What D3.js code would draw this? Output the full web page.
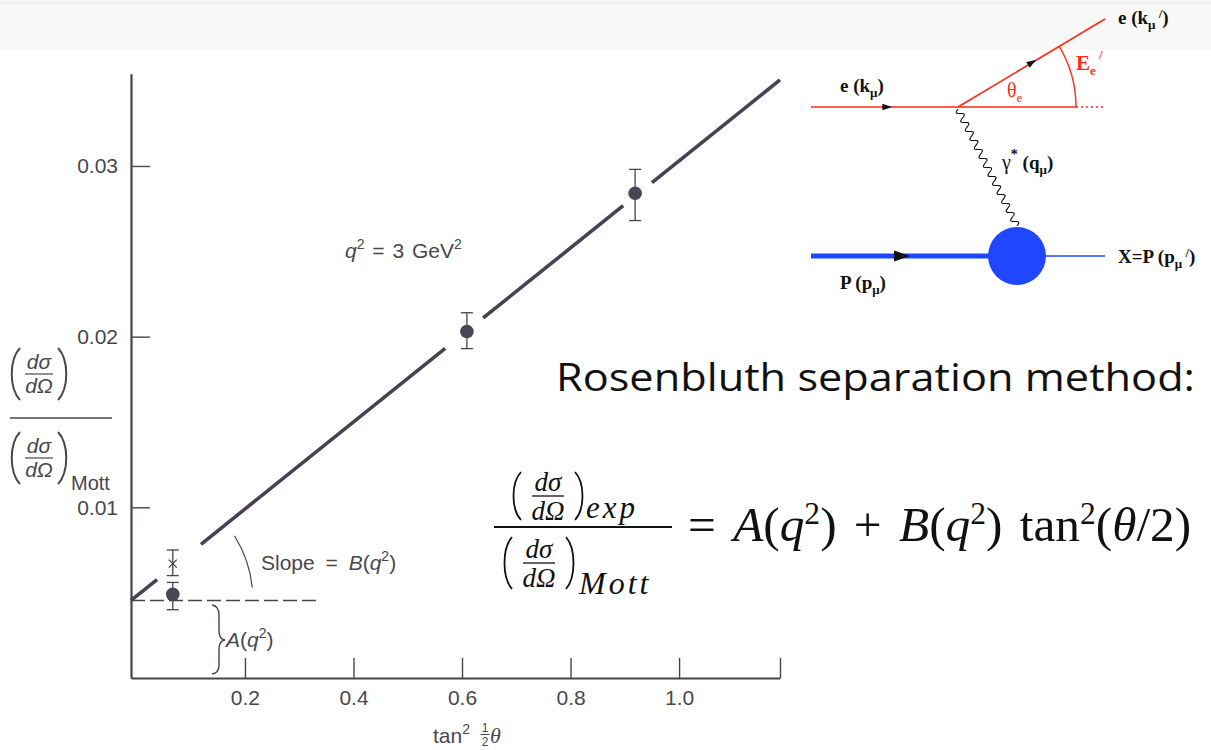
<!DOCTYPE html>
<html>
<head>
<meta charset="utf-8">
<script src="https://cdn.jsdelivr.net/npm/d3@7"></script>
<style>
  html, body { margin: 0; padding: 0; background: #ffffff; }
  svg { display: block; }
</style>
</head>
<body>
<svg id="chart" width="1211" height="750"></svg>
<script>
// ---- data -------------------------------------------------------------
// Rosenbluth plot at q^2 = 3 GeV^2: ratio to Mott cross section vs tan^2(theta/2)
const xTickValues = [0.2, 0.4, 0.6, 0.8, 1.0];
const yTickValues = [0.01, 0.02, 0.03];
const xDomain = [-0.01, 1.186];
const yDomain = [0, 0.0354];

// measured points (filled circles) with error bars
const pointX    = [0.067, 0.609, 0.919];
const pointY    = [0.0049, 0.0203, 0.0284];
const pointLow  = [0.0040, 0.0193, 0.0268];
const pointHigh = [0.0056, 0.0214, 0.0298];

// extra point drawn with a cross
const crossX    = [0.067];
const crossY    = [0.0067];
const crossLow  = [0.0060];
const crossHigh = [0.0075];

// straight-line fit A + B*tan^2(theta/2)
const fitA = 0.0048;
const fitB = 0.0255;
// the fit line is broken where it passes the data points
const fitSegmentStart = [-0.01, 0.119, 0.639, 0.950];
const fitSegmentEnd   = [0.038, 0.569, 0.897, 1.186];

const dashedEndX = 0.331;   // extent of the intercept guide line

// ---- layout -----------------------------------------------------------
const svg = d3.select("#chart");
const ink = "#4a4150";
const textInk = "#48474c";
const sans = "'Liberation Sans', Arial, Helvetica, sans-serif";
const serif = "'Liberation Serif', 'Times New Roman', serif";

const x = d3.scaleLinear().domain(xDomain).range([131, 780]);
const y = d3.scaleLinear().domain(yDomain).range([678, 73.8]);

// faint scanned-page band along the top
svg.append("rect").attr("x", 0).attr("y", 0).attr("width", 1211).attr("height", 50)
  .attr("fill", "#f8f8f8");
svg.append("line").attr("x1", 0).attr("x2", 1211).attr("y1", 3).attr("y2", 3)
  .attr("stroke", "#eeeeee").attr("stroke-width", 3);

const plot = svg.append("g");

// axes
const yAxis = d3.axisLeft(y).tickValues(yTickValues)
  .tickFormat(d3.format(".2f")).tickSizeInner(-19).tickSizeOuter(0).tickPadding(13);
const xAxis = d3.axisBottom(x).tickValues(xTickValues.concat([xDomain[1]]))
  .tickFormat(d => d === xDomain[1] ? "" : d3.format(".1f")(d))
  .tickSizeInner(-20).tickSizeOuter(0).tickPadding(12);

const gy = plot.append("g").attr("transform", `translate(${x(xDomain[0])},0)`).call(yAxis);
const gx = plot.append("g").attr("transform", `translate(0,${y(0)})`).call(xAxis);
[gx, gy].forEach(g => {
  g.select(".domain").attr("stroke", ink).attr("stroke-width", 2.2);
  g.selectAll(".tick line").attr("stroke", ink).attr("stroke-width", 1.4);
  g.selectAll(".tick text").attr("fill", textInk).attr("font-family", sans).attr("font-size", 21);
});

// fit line segments
const fitY = v => fitA + fitB * v;
plot.selectAll("line.fit")
  .data(d3.range(fitSegmentStart.length))
  .join("line").attr("class", "fit")
  .attr("x1", i => x(fitSegmentStart[i])).attr("y1", i => y(fitY(fitSegmentStart[i])))
  .attr("x2", i => x(fitSegmentEnd[i])).attr("y2", i => y(fitY(fitSegmentEnd[i])))
  .attr("stroke", ink).attr("stroke-width", 3.6);

// dashed intercept guide at the value where the fit meets the vertical axis
const axisValue = fitY(xDomain[0]);
plot.append("line")
  .attr("x1", x(xDomain[0])).attr("x2", x(dashedEndX))
  .attr("y1", y(axisValue)).attr("y2", y(axisValue))
  .attr("stroke", ink).attr("stroke-width", 1.6).attr("stroke-dasharray", "14,5");

// error bars
function errorBars(xs, lows, highs) {
  const idx = d3.range(xs.length);
  plot.selectAll(null).data(idx).join("line")
    .attr("x1", i => x(xs[i])).attr("x2", i => x(xs[i]))
    .attr("y1", i => y(lows[i])).attr("y2", i => y(highs[i]))
    .attr("stroke", ink).attr("stroke-width", 1.3);
  [lows, highs].forEach(arr => {
    plot.selectAll(null).data(idx).join("line")
      .attr("x1", i => x(xs[i]) - 6).attr("x2", i => x(xs[i]) + 6)
      .attr("y1", i => y(arr[i])).attr("y2", i => y(arr[i]))
      .attr("stroke", ink).attr("stroke-width", 1.3);
  });
}
errorBars(pointX, pointLow, pointHigh);
errorBars(crossX, crossLow, crossHigh);

plot.selectAll("circle.pt").data(d3.range(pointX.length)).join("circle")
  .attr("class", "pt")
  .attr("cx", i => x(pointX[i])).attr("cy", i => y(pointY[i]))
  .attr("r", 6.8).attr("fill", "#4a4552");

plot.selectAll("path.cross").data(d3.range(crossX.length)).join("path")
  .attr("class", "cross")
  .attr("d", i => {
    const cx = x(crossX[i]), cy = y(crossY[i]), s = 4;
    return `M${cx - s},${cy - s}L${cx + s},${cy + s}M${cx - s},${cy + s}L${cx + s},${cy - s}`;
  })
  .attr("stroke", ink).attr("stroke-width", 1.3).attr("fill", "none");

// slope arc centred where the fit meets the axis
const cx0 = x(xDomain[0]), cy0 = y(axisValue), rArc = 122;
const a1 = 6 * Math.PI / 180, a2 = 32 * Math.PI / 180;
plot.append("path")
  .attr("d", `M${cx0 + rArc * Math.cos(a2)},${cy0 - rArc * Math.sin(a2)} A${rArc},${rArc} 0 0 1 ${cx0 + rArc * Math.cos(a1)},${cy0 - rArc * Math.sin(a1)}`)
  .attr("fill", "none").attr("stroke", ink).attr("stroke-width", 1.2);

// annotation text helpers
function richText(parent, xPos, yPos, parts, opts) {
  const t = parent.append("text").attr("x", xPos).attr("y", yPos)
    .attr("font-family", opts.family).attr("font-size", opts.size)
    .attr("fill", opts.fill);
  if (opts.weight) t.attr("font-weight", opts.weight);
  parts.forEach(p => {
    const s = t.append("tspan").text(p.t);
    if (p.italic) s.attr("font-style", "italic");
    if (p.family) s.attr("font-family", p.family);
    if (p.size) s.attr("font-size", p.size);
    if (p.dy) s.attr("dy", p.dy);
    if (p.dx) s.attr("dx", p.dx);
    if (p.fill) s.attr("fill", p.fill);
    if (p.weight) s.attr("font-weight", p.weight);
  });
  return t;
}

const annOpts = { family: sans, size: 21, fill: textInk };
richText(plot, 261, 570, [
  { t: "Slope = " }, { t: "B", italic: true }, { t: "(" }, { t: "q", italic: true },
  { t: "2", size: 14, dy: -9 }, { t: ")", dy: 9 }
], annOpts).attr("word-spacing", 5);
richText(plot, 226, 647, [
  { t: "A", italic: true }, { t: "(" }, { t: "q", italic: true },
  { t: "2", size: 14, dy: -9 }, { t: ")", dy: 9 }
], annOpts);
richText(plot, 345, 258, [
  { t: "q", italic: true }, { t: "2", size: 14, dy: -9 }, { t: " = 3 GeV", dy: 9 },
  { t: "2", size: 14, dy: -9 }
], annOpts).attr("word-spacing", 2);

// brace marking the intercept
plot.append("path")
  .attr("d", "M212,605 Q219,606 219,615 L219,631 Q219,639 225,640 Q219,641 219,649 L219,665 Q219,673 212,674")
  .attr("fill", "none").attr("stroke", ink).attr("stroke-width", 1.4);

// x-axis title: tan^2 (1/2) theta
richText(plot, 433, 743, [{ t: "tan" }, { t: "2", size: 14, dy: -9 }], annOpts);
plot.append("text").attr("x", 485).attr("y", 732).attr("text-anchor", "middle")
  .attr("font-family", sans).attr("font-size", 12).attr("fill", textInk).text("1");
plot.append("line").attr("x1", 480.5).attr("x2", 489.5).attr("y1", 734.5).attr("y2", 734.5)
  .attr("stroke", textInk).attr("stroke-width", 1.1);
plot.append("text").attr("x", 485).attr("y", 746).attr("text-anchor", "middle")
  .attr("font-family", sans).attr("font-size", 12).attr("fill", textInk).text("2");
plot.append("text").attr("x", 490).attr("y", 743).attr("font-family", serif)
  .attr("font-style", "italic").attr("font-size", 22).attr("fill", textInk).text("θ");

// parenthesised dsigma/dOmega block
function parenPath(xp, top, bottom, dir, bulge) {
  const mid = (top + bottom) / 2, b = bulge * dir;
  return `M${xp},${top} C${xp - b},${top + (mid - top) * 0.45} ${xp - b},${bottom - (bottom - mid) * 0.45} ${xp},${bottom}`;
}
function dsdo(parent, left, right, top, bottom, opts) {
  parent.append("path").attr("d", parenPath(left, top, bottom, 1, opts.bulge))
    .attr("fill", "none").attr("stroke", opts.fill).attr("stroke-width", opts.pw);
  parent.append("path").attr("d", parenPath(right, top, bottom, -1, opts.bulge))
    .attr("fill", "none").attr("stroke", opts.fill).attr("stroke-width", opts.pw);
  const cx = (left + right) / 2, mid = (top + bottom) / 2;
  parent.append("text").attr("x", cx).attr("y", mid - opts.gap)
    .attr("text-anchor", "middle").attr("font-family", opts.family)
    .attr("font-style", "italic").attr("font-size", opts.size).attr("fill", opts.fill).text("dσ");
  parent.append("line").attr("x1", cx - opts.bar).attr("x2", cx + opts.bar)
    .attr("y1", mid).attr("y2", mid).attr("stroke", opts.fill).attr("stroke-width", opts.bw);
  parent.append("text").attr("x", cx).attr("y", mid + opts.size * 0.9)
    .attr("text-anchor", "middle").attr("font-family", opts.family)
    .attr("font-style", "italic").attr("font-size", opts.size).attr("fill", opts.fill).text("dΩ");
}

// y-axis title
const yLab = { family: sans, size: 21, fill: textInk, pw: 2, gap: 5, bar: 14, bw: 1.2, bulge: 11 };
dsdo(plot, 20, 58, 348, 400, yLab);
plot.append("line").attr("x1", 10).attr("x2", 112).attr("y1", 418).attr("y2", 418)
  .attr("stroke", textInk).attr("stroke-width", 1.5);
dsdo(plot, 20, 58, 432, 484, yLab);
plot.append("text").attr("x", 71).attr("y", 490).attr("font-family", sans)
  .attr("font-size", 20).attr("fill", textInk).text("Mott");

// ---- heading -----------------------------------------------------------
svg.append("text").attr("x", 556).attr("y", 391)
  .attr("font-family", "'Comic Sans MS', 'Open Sans', sans-serif")
  .attr("font-size", 38).attr("fill", "#111")
  .attr("textLength", 639).attr("lengthAdjust", "spacingAndGlyphs")
  .text("Rosenbluth separation method:");

// ---- Rosenbluth formula ------------------------------------------------
const fx = svg.append("g");
const fOpts = { family: serif, size: 27, fill: "#111", pw: 1.8, gap: 5, bar: 16, bw: 1.3, bulge: 10 };
dsdo(fx, 521, 575, 472, 520, fOpts);
fx.append("text").attr("x", 586).attr("y", 518).attr("font-family", serif)
  .attr("font-style", "italic").attr("font-size", 31).attr("letter-spacing", 3)
  .attr("fill", "#111").text("exp");
fx.append("line").attr("x1", 494).attr("x2", 672).attr("y1", 527).attr("y2", 527)
  .attr("stroke", "#111").attr("stroke-width", 2);
dsdo(fx, 512, 566, 537, 589, fOpts);
fx.append("text").attr("x", 579).attr("y", 594).attr("font-family", serif)
  .attr("font-style", "italic").attr("font-size", 32).attr("letter-spacing", 3)
  .attr("fill", "#111").text("Mott");

const rhs = richText(fx, 688, 541, [
  { t: "= " }, { t: "A", italic: true }, { t: "(" }, { t: "q", italic: true },
  { t: "2", size: 27, dy: -17 }, { t: ") + ", dy: 17 }, { t: "B", italic: true },
  { t: "(" }, { t: "q", italic: true }, { t: "2", size: 27, dy: -17 },
  { t: ") tan", dy: 17 }, { t: "2", size: 27, dy: -17 }, { t: "(", dy: 17 },
  { t: "θ", italic: true }, { t: "/2)" }
], { family: serif, size: 42, fill: "#111" });
rhs.attr("word-spacing", 5);
// size the right-hand side so it runs to the right margin
const w = rhs.node().getComputedTextLength();
const fs = 42 * (1195 - 688) / w;
rhs.attr("font-size", fs);
rhs.selectAll("tspan").filter(function () { return d3.select(this).text() === "2"; })
  .attr("font-size", fs * 0.64);

// ---- scattering diagram -------------------------------------------------
const fd = svg.append("g");
const red = "#ff2a1a", blue = "#1f47ff";
const vtx = [958, 107], outEnd = [1105, 19];
fd.append("line").attr("x1", 811).attr("y1", vtx[1]).attr("x2", 1076).attr("y2", vtx[1])
  .attr("stroke", red).attr("stroke-width", 1.6);
fd.append("line").attr("x1", 1076).attr("y1", vtx[1]).attr("x2", 1105).attr("y2", vtx[1])
  .attr("stroke", red).attr("stroke-width", 1.3).attr("stroke-dasharray", "2,3");
fd.append("line").attr("x1", vtx[0]).attr("y1", vtx[1]).attr("x2", outEnd[0]).attr("y2", outEnd[1])
  .attr("stroke", red).attr("stroke-width", 1.6);

// angle arc
const ang = Math.atan2(vtx[1] - outEnd[1], outEnd[0] - vtx[0]), rr = 118;
fd.append("path")
  .attr("d", `M${vtx[0] + rr * Math.cos(ang)},${vtx[1] - rr * Math.sin(ang)} A${rr},${rr} 0 0 1 ${vtx[0] + rr},${vtx[1]}`)
  .attr("fill", "none").attr("stroke", red).attr("stroke-width", 1.4);

function arrowHead(g, px, py, angle, size, color) {
  g.append("path")
    .attr("d", `M${size},0 L${-size * 0.6},${-size * 0.55} L${-size * 0.6},${size * 0.55} Z`)
    .attr("transform", `translate(${px},${py}) rotate(${angle})`)
    .attr("fill", color);
}
arrowHead(fd, 886, vtx[1], 0, 6, "#111");
arrowHead(fd, 1031, 63, -ang * 180 / Math.PI, 6, "#111");

// photon propagator
const pA = [vtx[0], vtx[1] + 2], pB = [1017, 226];
const plen = Math.hypot(pB[0] - pA[0], pB[1] - pA[1]);
const ux = (pB[0] - pA[0]) / plen, uy = (pB[1] - pA[1]) / plen;
const wave = d3.range(0, 1.0001, 1 / 240).map(t => {
  const s = t * plen, a = 3.2 * Math.sin(t * Math.PI * 2 * 13);
  return [pA[0] + ux * s - uy * a, pA[1] + uy * s + ux * a];
});
fd.append("path").attr("d", d3.line()(wave)).attr("fill", "none")
  .attr("stroke", "#111").attr("stroke-width", 1.1);

// proton lines and blob
fd.append("line").attr("x1", 811).attr("x2", 995).attr("y1", 256).attr("y2", 256)
  .attr("stroke", blue).attr("stroke-width", 5);
fd.append("line").attr("x1", 1040).attr("x2", 1105).attr("y1", 256).attr("y2", 256)
  .attr("stroke", blue).attr("stroke-width", 1.6);
arrowHead(fd, 900, 256, 0, 10, "#111");
fd.append("circle").attr("cx", 1017).attr("cy", 256).attr("r", 29).attr("fill", blue);

const lab = { family: serif, size: 19, fill: "#111", weight: "bold" };
richText(fd, 840, 92, [{ t: "e (k" }, { t: "μ", size: 13, dy: 5 }, { t: ")", dy: -5 }], lab);
richText(fd, 1118, 24, [{ t: "e (k" }, { t: "μ", size: 13, dy: 5 }, { t: " /", size: 13, dy: -11 }, { t: ")", dy: 6 }], lab);
richText(fd, 840, 289, [{ t: "P (p" }, { t: "μ", size: 13, dy: 5 }, { t: ")", dy: -5 }], lab);
richText(fd, 1118, 263, [{ t: "X=P (p" }, { t: "μ", size: 13, dy: 5 }, { t: " /", size: 13, dy: -11 }, { t: ")", dy: 6 }], lab);
richText(fd, 1002, 169, [{ t: "γ", weight: "normal", size: 20 }, { t: "*", size: 14, dy: -10, weight: "bold", fill: "#111" },
  { t: " (q", dy: 10 }, { t: "μ", size: 13, dy: 5 }, { t: ")", dy: -5 }], lab);
richText(fd, 1076, 70, [{ t: "E", size: 21 }, { t: "e", size: 13, dy: 5 }, { t: " /", size: 13, dy: -16 }],
  { family: serif, size: 21, fill: red, weight: "bold" });
richText(fd, 1007, 97, [{ t: "θ", size: 20 }, { t: "e", size: 13, dy: 5 }],
  { family: serif, size: 20, fill: red });
</script>
</body>
</html>
